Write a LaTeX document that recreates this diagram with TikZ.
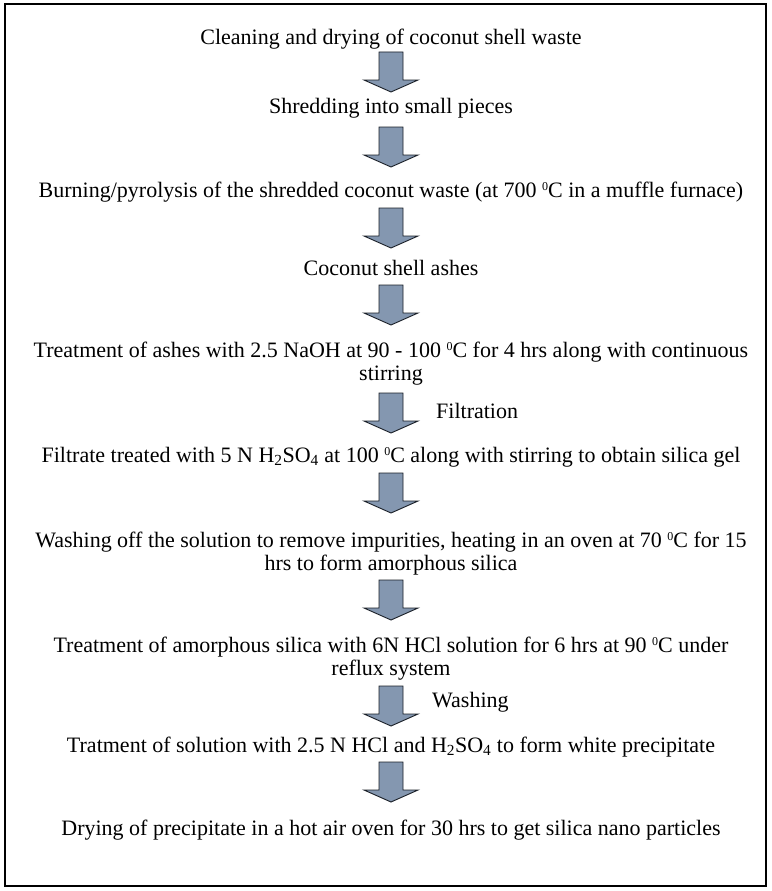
\documentclass[tikz,border=0pt]{standalone}
\usepackage{fontspec}
\setmainfont{Liberation Serif}
\usepackage{tikz}
\usetikzlibrary{positioning}
\definecolor{arrow-fill}{RGB}{132,151,176}
\definecolor{arrow-line}{RGB}{25,30,38}
\newcommand{\dg}{\raisebox{0.62ex}{\fontsize{12}{12}\selectfont 0}}

\begin{document}
\begin{tikzpicture}[x=1pt, y=-1pt,
txt/.style={anchor=base, inner sep=0pt, font=\fontsize{22}{22}\selectfont},
side/.style={anchor=base west, inner sep=0pt, font=\fontsize{22}{22}\selectfont},
flow/.style={fill=arrow-fill, draw=arrow-line, line width=0.9pt, line join=miter}]
\useasboundingbox (0,0) rectangle (771,891);
% frame
\draw[line width=1.3pt] (5,4) rectangle (766,886);

%%%%%%%%%%%%%%%%%%%%%%%% steps
\node [txt] (clean) at (391,45) {Cleaning and drying of coconut shell waste};
\node [txt] (shred) at (391,113) {Shredding into small pieces};
\node [txt] (burn) at (391,197) {Burning/pyrolysis of the shredded coconut waste (at 700 \dg C in a muffle furnace)};
\node [txt] (ash) at (391,275) {Coconut shell ashes};
\node [txt] (naoh) at (391,357) {Treatment of ashes with 2.5 NaOH at 90 - 100 \dg C for 4 hrs along with continuous};
\node [txt] (stir) at ([yshift=-23pt]naoh.base) {stirring};
\node [txt] (gel) at (391,462) {Filtrate treated with 5 N H\textsubscript{2}SO\textsubscript{4} at 100 \dg C along with stirring to obtain silica gel};
\node [txt] (oven) at (391,547) {Washing off the solution to remove impurities, heating in an oven at 70 \dg C for 15};
\node [txt] (amor) at ([yshift=-23pt]oven.base) {hrs to form amorphous silica};
\node [txt] (hcl) at (391,652) {Treatment of amorphous silica with 6N HCl solution for 6 hrs at 90 \dg C under};
\node [txt] (reflux) at ([yshift=-23pt]hcl.base) {reflux system};
\node [txt] (ppt) at (391,752) {Tratment of solution with 2.5 N HCl and H\textsubscript{2}SO\textsubscript{4} to form white precipitate};
\node [txt] (dry) at (391,835) {Drying of precipitate in a hot air oven for 30 hrs to get silica nano particles};

% block arrows (top of shaft)
\foreach \t in {52,127,208,285,393,473,580,686,762}
  \draw[flow] (379,\t) -- (403,\t) -- (403,\t+28) -- (418,\t+28) -- (391,\t+40)
    -- (364,\t+28) -- (379,\t+28) -- cycle;

% side labels
\node [side] (filt) at (436,418) {Filtration};
\node [side] (wash) at (432,707) {Washing};

\end{tikzpicture}
\end{document}
